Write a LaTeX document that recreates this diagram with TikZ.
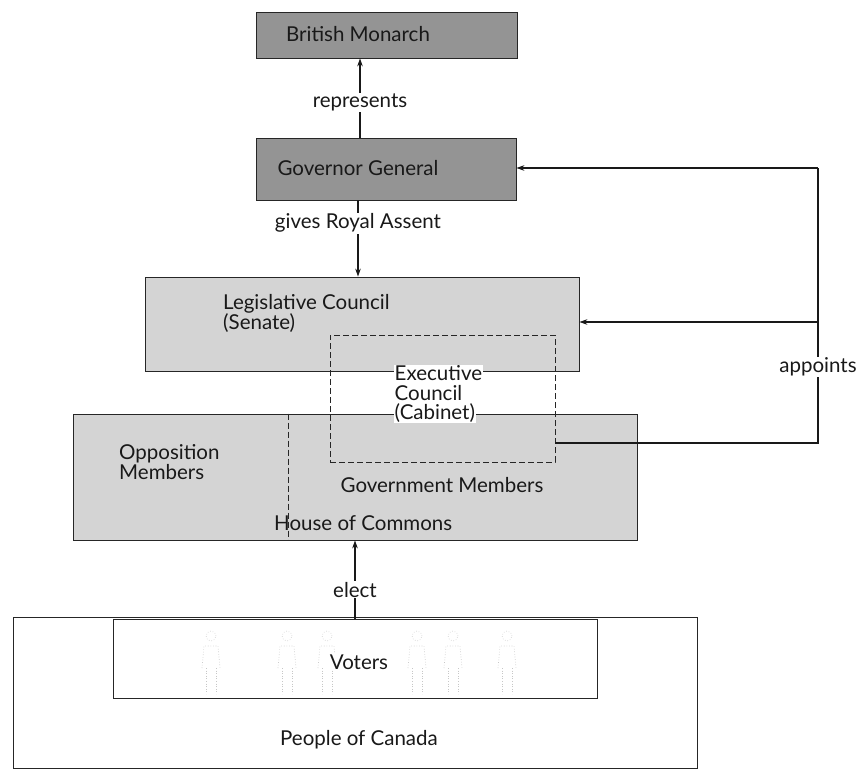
\documentclass[tikz,border=0pt]{standalone}
\usepackage{fontspec}
\setmainfont{Lato}
\usetikzlibrary{arrows.meta}
\begin{document}
\begin{tikzpicture}[x=1pt,y=-1pt,
  box/.style={draw=black!85, line width=0.8pt, inner sep=0pt},
  darkbox/.style={box, fill=black!42},
  lightbox/.style={box, fill=black!17},
  plainbox/.style={box, fill=white},
  lbl/.style={font=\fontsize{20.5}{22}\selectfont, inner sep=1pt, text=black!90},
  wlbl/.style={lbl, fill=white},
  conn/.style={line width=1.2pt, draw=black!90, -{Stealth[length=8pt,width=5.5pt]}},
  line/.style={line width=1.2pt, draw=black!90},
  figure/.style={draw=black!22, line width=0.6pt, dotted},
]
\useasboundingbox (0,0) rectangle (862,773);

% boxes
\node[darkbox, minimum width=261pt, minimum height=46pt] (bm) at (386.5,35) {};
\node[darkbox, minimum width=260pt, minimum height=62pt] (gg) at (386,169) {};
\node[lightbox, minimum width=434pt, minimum height=94pt] (lc) at (362,324) {};
\node[lightbox, minimum width=564pt, minimum height=126pt] (hoc) at (355,477) {};
\node[plainbox, minimum width=684pt, minimum height=151pt] (pc) at (355,692.5) {};
\node[plainbox, minimum width=484pt, minimum height=79pt] (vt) at (355,658.5) {};
\node[box, dashed, dash pattern=on 6pt off 3pt, minimum width=225pt, minimum height=127pt] (ec) at (442.5,398.5) {};

% faint stippled figures of voters
\foreach \fx in {211,287,327,417,453,507} {
  \draw[figure] (\fx,636) circle (5pt);
  \draw[figure] (\fx-9,668) -- (\fx-7,646) -- (\fx+7,646) -- (\fx+9,668);
  \draw[figure] (\fx-5,668) -- (\fx-5,694) (\fx+5,668) -- (\fx+5,694);
}

% divider in House of Commons
\coordinate (dv) at (288,0);
\draw[black!85, line width=0.8pt, dash pattern=on 6pt off 3pt] (dv |- hoc.north) -- (dv |- hoc.south);

% texts
\node[lbl] (bmt) at (358,34) {British Monarch};
\node[lbl] (ggt) at (358,168) {Governor General};
\node[lbl, anchor=west, align=left] (lct) at (222,313) {Legislative Council\\[-2pt](Senate)};
\node[lbl, anchor=west, fill=white, inner sep=0.5pt] (e1) at (394,373) {Executive};
\node[lbl, anchor=west, fill=white, inner sep=0.5pt] (e2) at (394,393) {Council};
\node[lbl, anchor=west, fill=white, inner sep=0.5pt] (e3) at (394,413) {(Cabinet)};
\node[lbl, anchor=west, align=left] (opt) at (118,462) {Opposition\\[-2pt]Members};
\node[lbl] (gmt) at (442,485) {Government Members};
\node[lbl, anchor=west] (hct) at (273,523) {House of Commons};
\node[lbl, fill=white, inner sep=0.5pt] (vtt) at (359,662) {Voters};
\node[lbl] (pct) at (359,740) {People of Canada};

% vertical connectors
\coordinate (ax) at (360,0);
\coordinate (bx) at (358,0);
\coordinate (cx) at (355,0);
\draw[conn] (ax |- gg.north) -- node[wlbl, pos=0.44] (rep) {represents} (ax |- bm.south);
\draw[conn] (bx |- gg.south) -- node[wlbl, pos=0.3] (gra) {gives Royal Assent} (bx |- lc.north);
\draw[conn] (cx |- vt.north) -- node[wlbl, pos=0.37] (el) {elect} (cx |- hoc.south);

% appoints
\coordinate (apT) at (818,168);
\coordinate (apM) at (818,322);
\coordinate (apB) at (818,443);
\draw[line] (ec.east |- apB) -- (apB) -- node[wlbl, pos=0.276] (apl) {appoints} (apT);
\draw[conn] (apT) -- (gg.east |- apT);
\draw[conn] (apM) -- (lc.east |- apM);
\end{tikzpicture}
\end{document}
